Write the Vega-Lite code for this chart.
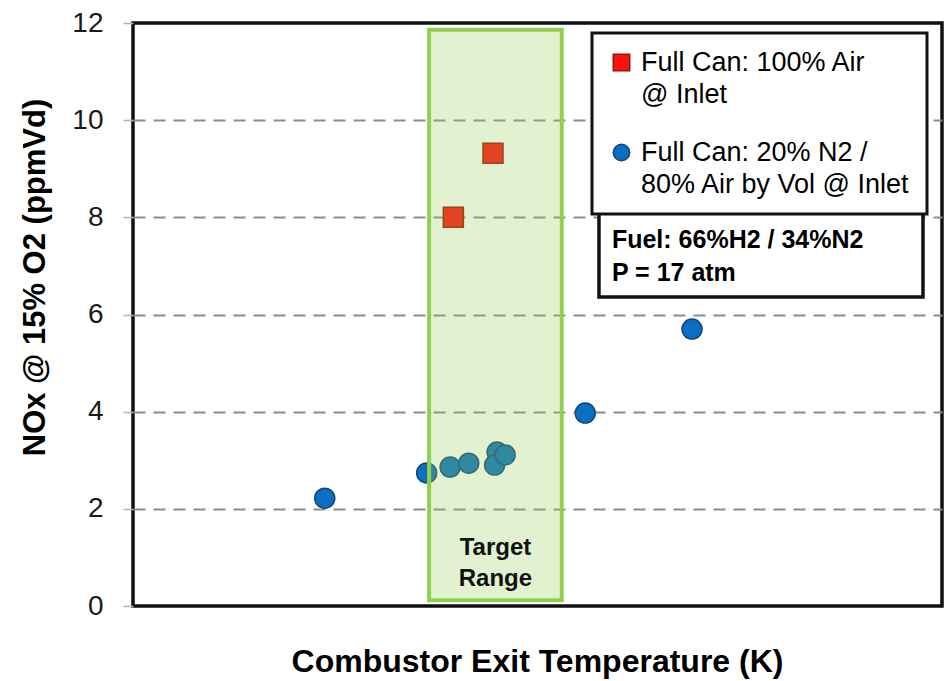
{
  "$schema": "https://vega.github.io/schema/vega-lite/v6.json",
  "width": 809,
  "height": 583,
  "autosize": {"type": "none"},
  "padding": {"left": 133, "top": 23, "right": 3, "bottom": 75},
  "background": "white",
  "config": {
    "font": "Liberation Sans",
    "view": {"stroke": "#111111", "strokeWidth": 3.5},
    "legend": {"fillColor": "white", "strokeColor": "#111111", "strokeWidth": 3},
    "style": {"guide-label": {"lineHeight": 32}}
  },
  "layer": [
    {
      "data": {
        "values": [
          {"series": "Full Can: 20% N2 / 80% Air by Vol @ Inlet", "temperature": 23.7, "nox": 2.22},
          {"series": "Full Can: 20% N2 / 80% Air by Vol @ Inlet", "temperature": 36.3, "nox": 2.74},
          {"series": "Full Can: 20% N2 / 80% Air by Vol @ Inlet", "temperature": 39.2, "nox": 2.86},
          {"series": "Full Can: 20% N2 / 80% Air by Vol @ Inlet", "temperature": 41.5, "nox": 2.94},
          {"series": "Full Can: 20% N2 / 80% Air by Vol @ Inlet", "temperature": 45.0, "nox": 3.17},
          {"series": "Full Can: 20% N2 / 80% Air by Vol @ Inlet", "temperature": 44.7, "nox": 2.90},
          {"series": "Full Can: 20% N2 / 80% Air by Vol @ Inlet", "temperature": 46.0, "nox": 3.11},
          {"series": "Full Can: 20% N2 / 80% Air by Vol @ Inlet", "temperature": 55.9, "nox": 3.97},
          {"series": "Full Can: 20% N2 / 80% Air by Vol @ Inlet", "temperature": 69.1, "nox": 5.70},
          {"series": "Full Can: 100% Air @ Inlet", "temperature": 39.6, "nox": 8.0},
          {"series": "Full Can: 100% Air @ Inlet", "temperature": 44.5, "nox": 9.32}
        ]
      },
      "mark": {"type": "point", "filled": true, "opacity": 1, "strokeWidth": 1.5, "size": 400},
      "encoding": {
        "x": {
          "field": "temperature", "type": "quantitative",
          "scale": {"domain": [0, 100], "nice": false, "zero": false},
          "axis": {
            "labels": false, "ticks": false, "domain": false, "grid": false,
            "title": "Combustor Exit Temperature (K)",
            "titleFontSize": 32, "titleFontWeight": "bold", "titleColor": "black",
            "titleX": 404, "titleY": 65, "titleBaseline": "alphabetic", "titleAlign": "center"
          }
        },
        "y": {
          "field": "nox", "type": "quantitative",
          "scale": {"domain": [0, 12], "nice": false},
          "axis": {
            "values": [0, 2, 4, 6, 8, 10, 12],
            "grid": true, "gridColor": "#8c8c8c", "gridWidth": 2, "gridDash": [12, 8],
            "gridOpacity": {"condition": {"test": "datum.value == 0 || datum.value == 12", "value": 0}, "value": 1},
            "domain": false, "tickColor": "#b5b5b5", "tickSize": 10, "tickWidth": 1.5,
            "labelPadding": 20, "labelFontSize": 28, "labelColor": "#1a1a1a",
            "title": "NOx @ 15% O2 (ppmVd)",
            "titleFontSize": 31, "titleFontWeight": "bold", "titleColor": "black",
            "titleAngle": -90, "titleX": -89, "titleY": 254,
            "titleBaseline": "alphabetic", "titleAlign": "center"
          }
        },
        "fill": {
          "field": "series", "type": "nominal",
          "scale": {"domain": ["Full Can: 100% Air @ Inlet", "Full Can: 20% N2 / 80% Air by Vol @ Inlet"], "range": ["#ff1010", "#0a6fc2"]},
          "legend": {
            "title": null, "orient": "none", "legendX": 459, "legendY": 10,
            "padding": 16, "labelFontSize": 27, "labelColor": "black", "labelLimit": 400,
            "labelOffset": 6, "symbolSize": 270, "rowPadding": 30, "symbolStrokeWidth": 1.5,
            "labelExpr": "datum.value == 'Full Can: 100% Air @ Inlet' ? ['Full Can: 100% Air', '@ Inlet'] : ['Full Can: 20% N2 /', '80% Air by Vol @ Inlet']"
          }
        },
        "stroke": {
          "field": "series", "type": "nominal",
          "scale": {"domain": ["Full Can: 100% Air @ Inlet", "Full Can: 20% N2 / 80% Air by Vol @ Inlet"], "range": ["#8a1a0a", "#16447a"]}
        },
        "shape": {
          "field": "series", "type": "nominal",
          "scale": {"domain": ["Full Can: 100% Air @ Inlet", "Full Can: 20% N2 / 80% Air by Vol @ Inlet"], "range": ["square", "circle"]}
        }
      }
    },
    {
      "data": {"values": [{}]},
      "mark": {"type": "rect", "fill": "#92d050", "fillOpacity": 0.27, "stroke": "#8fd14f", "strokeWidth": 4},
      "encoding": {
        "x": {"datum": 36.6}, "x2": {"datum": 53.0},
        "y": {"datum": 0.12}, "y2": {"datum": 11.86}
      }
    },
    {
      "data": {"values": [{}]},
      "mark": {"type": "text", "align": "center", "baseline": "alphabetic", "fontSize": 24, "fontWeight": "bold", "lineHeight": 31, "color": "#111111"},
      "encoding": {
        "x": {"datum": 44.8}, "y": {"datum": 1.05},
        "text": {"value": ["Target", "Range"]}
      }
    },
    {
      "data": {"values": [{}]},
      "mark": {"type": "rect", "fill": "white", "stroke": "#111111", "strokeWidth": 3.5},
      "encoding": {
        "x": {"datum": 57.6}, "x2": {"datum": 97.65},
        "y": {"datum": 6.36}, "y2": {"datum": 8.09}
      }
    },
    {
      "data": {"values": [{}]},
      "mark": {"type": "text", "align": "left", "baseline": "alphabetic", "fontSize": 25, "fontWeight": "bold", "lineHeight": 33, "color": "black"},
      "encoding": {
        "x": {"datum": 59.2}, "y": {"datum": 7.37},
        "text": {"value": ["Fuel: 66%H2 / 34%N2", "P = 17 atm"]}
      }
    }
  ]
}
